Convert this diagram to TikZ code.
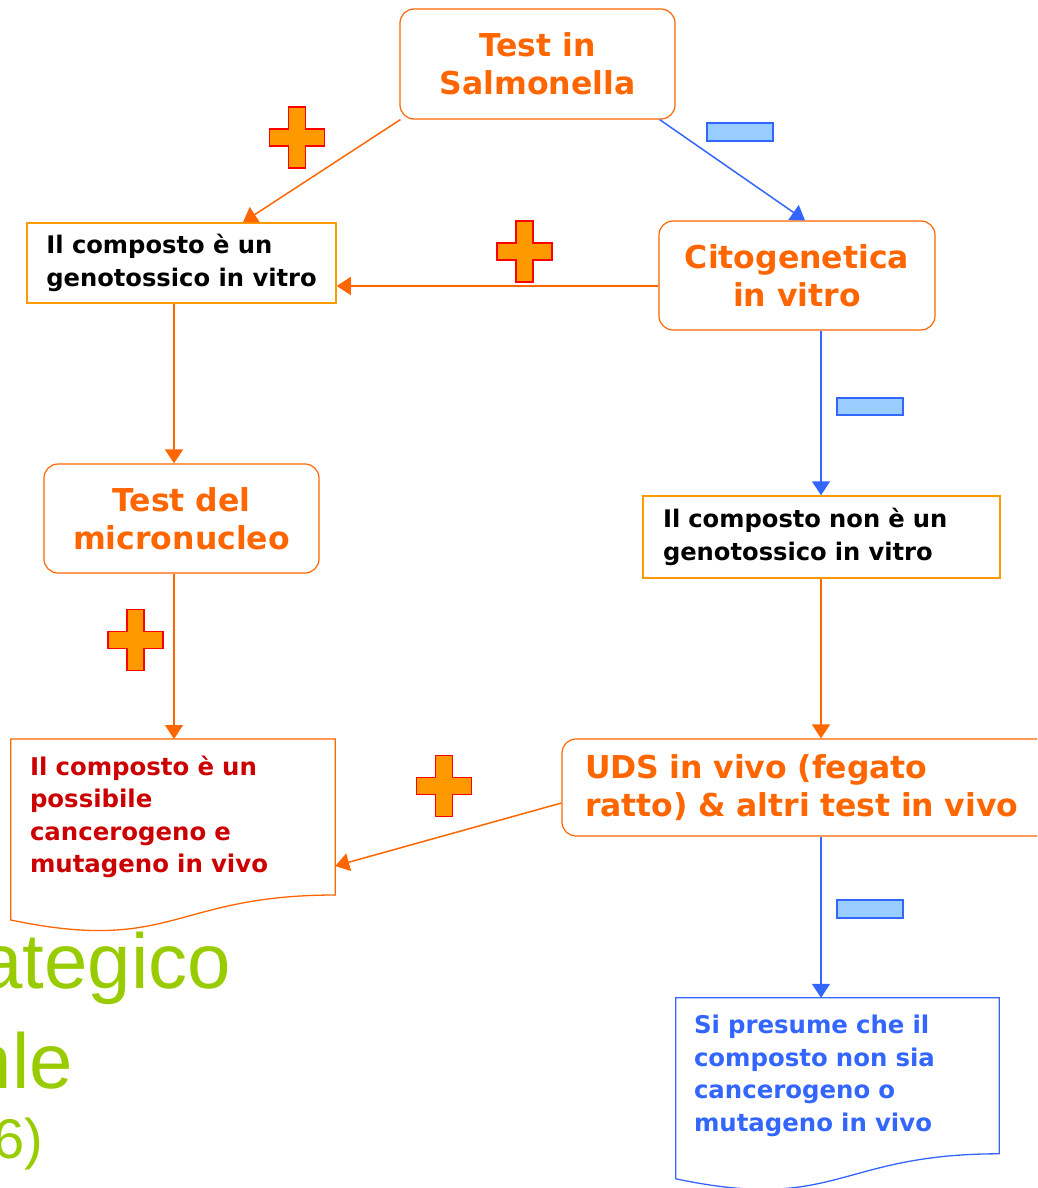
\documentclass[tikz,border=0pt]{standalone}
\usepackage{fontspec}
\setmainfont{DejaVu Sans}
\newfontfamily\greenfont{Liberation Sans}
\usetikzlibrary{arrows.meta,calc}
\definecolor{ttlorange}{HTML}{FF6600}
\definecolor{boxorange}{HTML}{FF9900}
\definecolor{linkblue}{HTML}{3366FF}
\definecolor{txtred}{HTML}{CC0000}
\definecolor{barfill}{HTML}{99CCFF}
\definecolor{plusfill}{HTML}{FF9900}
\definecolor{plusline}{HTML}{FF0000}
\definecolor{bggreen}{HTML}{99CC00}
\tikzset{
  titlebox/.style={draw=ttlorange, line width=1.2pt, rounded corners=14pt, text=ttlorange,
    font=\bfseries\fontsize{31.5}{38}\selectfont, align=center, inner sep=0pt},
  infobox/.style={draw=boxorange, line width=1.5pt, text=black,
    font=\bfseries\fontsize{24.2}{33}\selectfont, align=left, inner ysep=0pt, inner xsep=20pt},
  doctext/.style={font=\bfseries\fontsize{24.4}{32.5}\selectfont, align=left, inner ysep=0pt},
  docline/.style={line width=1.3pt},
  link/.style={line width=1.5pt, -{Triangle[length=14pt,width=18pt]}},
  orangelink/.style={link, draw=ttlorange},
  bluelink/.style={link, draw=linkblue},
  minusbar/.style={draw=linkblue, fill=barfill, line width=1.5pt},
  plusshape/.style={draw=plusline, fill=plusfill, line width=1.5pt},
  bgtext/.style={text=bggreen, inner sep=0pt},
}
\newcommand\drawplus[2]{%
  \draw[plusshape, shift={(#1,#2)}] (-8.5,-30.5) -- (8.5,-30.5) -- (8.5,-8.5) -- (27.5,-8.5)
    -- (27.5,8.5) -- (8.5,8.5) -- (8.5,30.5) -- (-8.5,30.5) -- (-8.5,8.5) -- (-27.5,8.5)
    -- (-27.5,-8.5) -- (-8.5,-8.5) -- cycle;}
\begin{document}
\begin{tikzpicture}[x=1pt,y=-1pt]
\useasboundingbox (0,0) rectangle (1037,1188);
\clip (0,0) rectangle (1037,1188);

% background title fragments
\node[bgtext, anchor=base east, font=\greenfont\fontsize{78}{80}\selectfont] (bgA) at (231,988) {ategico};
\node[bgtext, anchor=base east, font=\greenfont\fontsize{78}{80}\selectfont] (bgB) at (73,1088) {nle};
\node[bgtext, anchor=base east, font=\greenfont\fontsize{56}{60}\selectfont] (bgC) at (43,1158) {6)};

% helper coordinates
\coordinate (colL) at (174,0);
\coordinate (colR) at (821,0);
\coordinate (rowA) at (0,286);
\coordinate (rowB) at (0,803);
\coordinate (rowC) at (0,866);

% nodes
\node[titlebox, minimum width=275pt, minimum height=110pt] (salm) at (537.5,64) {Test in\\Salmonella};
\node[infobox, inner xsep=0pt, minimum width=309pt, minimum height=80pt] (box2) at (181.5,263) {Il composto è un\\genotossico in vitro};
\node[titlebox, minimum width=276pt, minimum height=109pt] (citog) at (797,275.5) {Citogenetica\\in vitro};
\node[titlebox, minimum width=275pt, minimum height=109pt] (micro) at (181.5,518.5) {Test del\\micronucleo};
\node[infobox, text width=317pt, minimum height=82pt] (box5) at (821.5,537) {Il composto non è un\\genotossico in vitro};
\node[titlebox, align=left, text width=454pt, inner xsep=23pt, minimum height=97pt] (uds) at (812,787.5) {UDS in vivo (fegato\\ratto) \& altri test in vivo};
\node[doctext, text=txtred, text width=286pt, inner xsep=19pt, minimum height=155.6pt] (reddoc) at (173,817) {Il composto è un\\possibile\\cancerogeno e\\mutageno in vivo};
\node[doctext, text=linkblue, text width=287pt, inner xsep=18pt, minimum height=155.6pt] (bluedoc) at (837.5,1075.8) {Si presume che il\\composto non sia\\cancerogeno o\\mutageno in vivo};

% document outlines
\draw[docline, draw=ttlorange] (reddoc.north west) -- (reddoc.north east) -- (reddoc.south east)
  .. controls (reddoc.south) and ($(reddoc.south)+(0,59)$) .. ($(reddoc.south west)+(0,25)$) -- cycle;
\draw[docline, draw=linkblue] (bluedoc.north west) -- (bluedoc.north east) -- (bluedoc.south east)
  .. controls (bluedoc.south) and ($(bluedoc.south)+(0,59)$) .. ($(bluedoc.south west)+(0,25)$) -- cycle;

% connectors
\draw[orangelink] ($(salm.south west)+(1,0)$) -- ($(box2.north)+(61.5,0)$);
\draw[bluelink] ($(salm.south east)+(-16,0)$) -- ($(citog.north)+(8,0)$);
\draw[orangelink] (citog.west |- rowA) -- (box2.east |- rowA);
\draw[orangelink] (box2.south -| colL) -- (micro.north -| colL);
\draw[orangelink] (micro.south -| colL) -- (reddoc.north -| colL);
\draw[bluelink] (citog.south -| colR) -- (box5.north -| colR);
\draw[orangelink] (box5.south -| colR) -- (uds.north -| colR);
\draw[orangelink] (uds.west |- rowB) -- (reddoc.east |- rowC);
\draw[bluelink] (uds.south -| colR) -- (bluedoc.north -| colR);

% plus and minus marks
\drawplus{297}{137.5}
\drawplus{524.5}{251.5}
\drawplus{135.5}{640}
\drawplus{444}{786}
\draw[minusbar] (707,123) rectangle (773,141);
\draw[minusbar] (837,398) rectangle (903,415);
\draw[minusbar] (837,900) rectangle (903,918);
\end{tikzpicture}
\end{document}
